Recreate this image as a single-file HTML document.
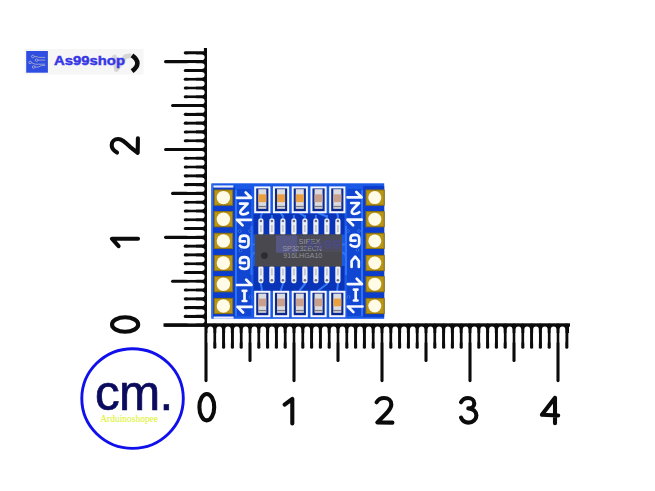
<!DOCTYPE html><html><head><meta charset="utf-8"><style>html,body{margin:0;padding:0;background:#fff;width:655px;height:491px;overflow:hidden}svg{display:block}text{font-family:"Liberation Sans",sans-serif}</style></head><body>
<svg width="655" height="491" viewBox="0 0 655 491">
<rect x="0" y="0" width="655" height="491" fill="#fff"/>
<rect x="24.5" y="49" width="119" height="25.5" fill="#f6f6f6"/>
<rect x="26.2" y="51" width="21.7" height="21.7" fill="#2f4de0"/>
<g stroke="#b4b4cc" stroke-width="0.8" fill="none"><circle cx="32.8" cy="56.5" r="1.3"/><path d="M34.1 56.6h3l1.5 0.8h6.6"/><circle cx="36.5" cy="60.1" r="1.3"/><path d="M37.8 60.1h7.4"/><circle cx="30.1" cy="62.4" r="1.3"/><path d="M31.4 62.6l3.7 1.6h10.1"/><circle cx="33.7" cy="67" r="1.3"/><path d="M35 67h3.5l2.8-1.4h3.9"/></g>
<path d="M114.5 57 L116.5 69.5 L125.5 56.5 L129.5 55.8" stroke="#d6d6d6" stroke-width="4.8" fill="none" stroke-linejoin="round" stroke-linecap="round"/>
<text x="54" y="65.3" font-size="13.6" font-weight="bold" fill="#3636e6" stroke="#3636e6" stroke-width="0.45" textLength="71" lengthAdjust="spacingAndGlyphs">As99shop</text>
<path d="M132 55.4 C135.6 58 137.4 60.8 137.4 63.2 C137.4 65.6 135.6 68.6 132 71.2" stroke="#0c0c0c" stroke-width="4.6" fill="none" stroke-linecap="butt"/>
<g fill="#0b0b0b">
<rect x="203.9" y="48" width="3.1" height="278.7"/>
<rect x="163.5" y="323.3" width="406.5" height="3.4"/>
<rect x="196" y="53" width="9" height="272"/>
<rect x="206" y="324" width="363" height="9"/>
</g>
<g stroke="#0b0b0b" stroke-linecap="round" stroke-width="3.1">
<line x1="165.6" y1="325.20" x2="205" y2="325.20"/>
<line x1="185.3" y1="316.41" x2="205" y2="316.41"/>
<line x1="185.3" y1="307.63" x2="205" y2="307.63"/>
<line x1="185.3" y1="298.84" x2="205" y2="298.84"/>
<line x1="185.3" y1="290.06" x2="205" y2="290.06"/>
<line x1="172.6" y1="281.27" x2="205" y2="281.27"/>
<line x1="185.3" y1="272.49" x2="205" y2="272.49"/>
<line x1="185.3" y1="263.70" x2="205" y2="263.70"/>
<line x1="185.3" y1="254.92" x2="205" y2="254.92"/>
<line x1="185.3" y1="246.13" x2="205" y2="246.13"/>
<line x1="165.6" y1="237.35" x2="205" y2="237.35"/>
<line x1="185.3" y1="228.56" x2="205" y2="228.56"/>
<line x1="185.3" y1="219.78" x2="205" y2="219.78"/>
<line x1="185.3" y1="211.00" x2="205" y2="211.00"/>
<line x1="185.3" y1="202.21" x2="205" y2="202.21"/>
<line x1="172.6" y1="193.42" x2="205" y2="193.42"/>
<line x1="185.3" y1="184.64" x2="205" y2="184.64"/>
<line x1="185.3" y1="175.85" x2="205" y2="175.85"/>
<line x1="185.3" y1="167.07" x2="205" y2="167.07"/>
<line x1="185.3" y1="158.28" x2="205" y2="158.28"/>
<line x1="165.6" y1="149.50" x2="205" y2="149.50"/>
<line x1="185.3" y1="140.71" x2="205" y2="140.71"/>
<line x1="185.3" y1="131.93" x2="205" y2="131.93"/>
<line x1="185.3" y1="123.14" x2="205" y2="123.14"/>
<line x1="185.3" y1="114.36" x2="205" y2="114.36"/>
<line x1="172.6" y1="105.57" x2="205" y2="105.57"/>
<line x1="185.3" y1="96.79" x2="205" y2="96.79"/>
<line x1="185.3" y1="88.00" x2="205" y2="88.00"/>
<line x1="185.3" y1="79.22" x2="205" y2="79.22"/>
<line x1="185.3" y1="70.43" x2="205" y2="70.43"/>
<line x1="165.6" y1="61.65" x2="205" y2="61.65"/>
<line x1="185.3" y1="52.87" x2="205" y2="52.87"/>
<line x1="206.00" y1="325" x2="206.00" y2="380.6"/>
<line x1="214.80" y1="325" x2="214.80" y2="347.2"/>
<line x1="223.60" y1="325" x2="223.60" y2="347.2"/>
<line x1="232.40" y1="325" x2="232.40" y2="347.2"/>
<line x1="241.20" y1="325" x2="241.20" y2="347.2"/>
<line x1="250.00" y1="325" x2="250.00" y2="360.4"/>
<line x1="258.80" y1="325" x2="258.80" y2="347.2"/>
<line x1="267.60" y1="325" x2="267.60" y2="347.2"/>
<line x1="276.40" y1="325" x2="276.40" y2="347.2"/>
<line x1="285.20" y1="325" x2="285.20" y2="347.2"/>
<line x1="294.00" y1="325" x2="294.00" y2="380.6"/>
<line x1="302.80" y1="325" x2="302.80" y2="347.2"/>
<line x1="311.60" y1="325" x2="311.60" y2="347.2"/>
<line x1="320.40" y1="325" x2="320.40" y2="347.2"/>
<line x1="329.20" y1="325" x2="329.20" y2="347.2"/>
<line x1="338.00" y1="325" x2="338.00" y2="360.4"/>
<line x1="346.80" y1="325" x2="346.80" y2="347.2"/>
<line x1="355.60" y1="325" x2="355.60" y2="347.2"/>
<line x1="364.40" y1="325" x2="364.40" y2="347.2"/>
<line x1="373.20" y1="325" x2="373.20" y2="347.2"/>
<line x1="382.00" y1="325" x2="382.00" y2="380.6"/>
<line x1="390.80" y1="325" x2="390.80" y2="347.2"/>
<line x1="399.60" y1="325" x2="399.60" y2="347.2"/>
<line x1="408.40" y1="325" x2="408.40" y2="347.2"/>
<line x1="417.20" y1="325" x2="417.20" y2="347.2"/>
<line x1="426.00" y1="325" x2="426.00" y2="360.4"/>
<line x1="434.80" y1="325" x2="434.80" y2="347.2"/>
<line x1="443.60" y1="325" x2="443.60" y2="347.2"/>
<line x1="452.40" y1="325" x2="452.40" y2="347.2"/>
<line x1="461.20" y1="325" x2="461.20" y2="347.2"/>
<line x1="470.00" y1="325" x2="470.00" y2="380.6"/>
<line x1="478.80" y1="325" x2="478.80" y2="347.2"/>
<line x1="487.60" y1="325" x2="487.60" y2="347.2"/>
<line x1="496.40" y1="325" x2="496.40" y2="347.2"/>
<line x1="505.20" y1="325" x2="505.20" y2="347.2"/>
<line x1="514.00" y1="325" x2="514.00" y2="360.4"/>
<line x1="522.80" y1="325" x2="522.80" y2="347.2"/>
<line x1="531.60" y1="325" x2="531.60" y2="347.2"/>
<line x1="540.40" y1="325" x2="540.40" y2="347.2"/>
<line x1="549.20" y1="325" x2="549.20" y2="347.2"/>
<line x1="558.00" y1="325" x2="558.00" y2="380.6"/>
<line x1="566.80" y1="325" x2="566.80" y2="347.2"/>
</g>
<g fill="#fff">
<rect x="186" y="317.96" width="18.6" height="5.34" rx="3" ry="3"/>
<rect x="186" y="309.18" width="18.6" height="5.68" rx="3" ry="3"/>
<rect x="186" y="300.39" width="18.6" height="5.69" rx="3" ry="3"/>
<rect x="186" y="291.61" width="18.6" height="5.68" rx="3" ry="3"/>
<rect x="186" y="282.82" width="18.6" height="5.69" rx="3" ry="3"/>
<rect x="186" y="274.04" width="18.6" height="5.68" rx="3" ry="3"/>
<rect x="186" y="265.25" width="18.6" height="5.69" rx="3" ry="3"/>
<rect x="186" y="256.47" width="18.6" height="5.69" rx="3" ry="3"/>
<rect x="186" y="247.69" width="18.6" height="5.68" rx="3" ry="3"/>
<rect x="186" y="238.90" width="18.6" height="5.68" rx="3" ry="3"/>
<rect x="186" y="230.12" width="18.6" height="5.68" rx="3" ry="3"/>
<rect x="186" y="221.33" width="18.6" height="5.69" rx="3" ry="3"/>
<rect x="186" y="212.55" width="18.6" height="5.68" rx="3" ry="3"/>
<rect x="186" y="203.76" width="18.6" height="5.69" rx="3" ry="3"/>
<rect x="186" y="194.97" width="18.6" height="5.68" rx="3" ry="3"/>
<rect x="186" y="186.19" width="18.6" height="5.68" rx="3" ry="3"/>
<rect x="186" y="177.41" width="18.6" height="5.68" rx="3" ry="3"/>
<rect x="186" y="168.62" width="18.6" height="5.68" rx="3" ry="3"/>
<rect x="186" y="159.84" width="18.6" height="5.68" rx="3" ry="3"/>
<rect x="186" y="151.05" width="18.6" height="5.68" rx="3" ry="3"/>
<rect x="186" y="142.26" width="18.6" height="5.69" rx="3" ry="3"/>
<rect x="186" y="133.48" width="18.6" height="5.68" rx="3" ry="3"/>
<rect x="186" y="124.69" width="18.6" height="5.68" rx="3" ry="3"/>
<rect x="186" y="115.91" width="18.6" height="5.69" rx="3" ry="3"/>
<rect x="186" y="107.12" width="18.6" height="5.69" rx="3" ry="3"/>
<rect x="186" y="98.34" width="18.6" height="5.69" rx="3" ry="3"/>
<rect x="186" y="89.55" width="18.6" height="5.69" rx="3" ry="3"/>
<rect x="186" y="80.77" width="18.6" height="5.69" rx="3" ry="3"/>
<rect x="186" y="71.98" width="18.6" height="5.69" rx="3" ry="3"/>
<rect x="186" y="63.20" width="18.6" height="5.69" rx="3" ry="3"/>
<rect x="186" y="54.42" width="18.6" height="5.68" rx="3" ry="3"/>
<rect x="207.55" y="326.5" width="5.70" height="18" rx="3" ry="3"/>
<rect x="216.35" y="326.5" width="5.70" height="18" rx="3" ry="3"/>
<rect x="225.15" y="326.5" width="5.70" height="18" rx="3" ry="3"/>
<rect x="233.95" y="326.5" width="5.70" height="18" rx="3" ry="3"/>
<rect x="242.75" y="326.5" width="5.70" height="18" rx="3" ry="3"/>
<rect x="251.55" y="326.5" width="5.70" height="18" rx="3" ry="3"/>
<rect x="260.35" y="326.5" width="5.70" height="18" rx="3" ry="3"/>
<rect x="269.15" y="326.5" width="5.70" height="18" rx="3" ry="3"/>
<rect x="277.95" y="326.5" width="5.70" height="18" rx="3" ry="3"/>
<rect x="286.75" y="326.5" width="5.70" height="18" rx="3" ry="3"/>
<rect x="295.55" y="326.5" width="5.70" height="18" rx="3" ry="3"/>
<rect x="304.35" y="326.5" width="5.70" height="18" rx="3" ry="3"/>
<rect x="313.15" y="326.5" width="5.70" height="18" rx="3" ry="3"/>
<rect x="321.95" y="326.5" width="5.70" height="18" rx="3" ry="3"/>
<rect x="330.75" y="326.5" width="5.70" height="18" rx="3" ry="3"/>
<rect x="339.55" y="326.5" width="5.70" height="18" rx="3" ry="3"/>
<rect x="348.35" y="326.5" width="5.70" height="18" rx="3" ry="3"/>
<rect x="357.15" y="326.5" width="5.70" height="18" rx="3" ry="3"/>
<rect x="365.95" y="326.5" width="5.70" height="18" rx="3" ry="3"/>
<rect x="374.75" y="326.5" width="5.70" height="18" rx="3" ry="3"/>
<rect x="383.55" y="326.5" width="5.70" height="18" rx="3" ry="3"/>
<rect x="392.35" y="326.5" width="5.70" height="18" rx="3" ry="3"/>
<rect x="401.15" y="326.5" width="5.70" height="18" rx="3" ry="3"/>
<rect x="409.95" y="326.5" width="5.70" height="18" rx="3" ry="3"/>
<rect x="418.75" y="326.5" width="5.70" height="18" rx="3" ry="3"/>
<rect x="427.55" y="326.5" width="5.70" height="18" rx="3" ry="3"/>
<rect x="436.35" y="326.5" width="5.70" height="18" rx="3" ry="3"/>
<rect x="445.15" y="326.5" width="5.70" height="18" rx="3" ry="3"/>
<rect x="453.95" y="326.5" width="5.70" height="18" rx="3" ry="3"/>
<rect x="462.75" y="326.5" width="5.70" height="18" rx="3" ry="3"/>
<rect x="471.55" y="326.5" width="5.70" height="18" rx="3" ry="3"/>
<rect x="480.35" y="326.5" width="5.70" height="18" rx="3" ry="3"/>
<rect x="489.15" y="326.5" width="5.70" height="18" rx="3" ry="3"/>
<rect x="497.95" y="326.5" width="5.70" height="18" rx="3" ry="3"/>
<rect x="506.75" y="326.5" width="5.70" height="18" rx="3" ry="3"/>
<rect x="515.55" y="326.5" width="5.70" height="18" rx="3" ry="3"/>
<rect x="524.35" y="326.5" width="5.70" height="18" rx="3" ry="3"/>
<rect x="533.15" y="326.5" width="5.70" height="18" rx="3" ry="3"/>
<rect x="541.95" y="326.5" width="5.70" height="18" rx="3" ry="3"/>
<rect x="550.75" y="326.5" width="5.70" height="18" rx="3" ry="3"/>
<rect x="559.55" y="326.5" width="5.70" height="18" rx="3" ry="3"/>
</g>
<g stroke="#0b0b0b" stroke-width="4.1" fill="none" stroke-linecap="round" stroke-linejoin="round">
<ellipse cx="206.8" cy="407.2" rx="7.4" ry="13.2"/>
<path d="M284.6 404.6 L292.3 399 V423.4"/>
<path d="M376.6 402.3 C378.3 399.5 380.8 398 384 398 C388.5 398 391.3 400.8 391.3 404.5 C391.3 409 386.5 413.5 377.3 422.4 L392.4 422.6"/>
<path d="M461 402.3 C462.5 399.6 465 398 468 398 C471.5 398 474.3 400.4 474.3 403.4 C474.3 406.4 471.8 408.4 468.3 408.4 C473 408.4 476.4 411.5 476.4 415.5 C476.4 419.5 472.8 422.6 468.5 422.6 C465 422.6 462.3 420.8 461 417.6"/>
<path d="M555 397.8 L541.9 414.8 L558.2 415.5 M555 397.8 V423.2"/>
<path d="M117 152.6 C113.6 150.5 111.7 148 111.7 145.2 C111.7 141.6 114.5 139 118.2 139 C121.6 139 124.5 141.6 130 146.8 L137.7 152.8 L137.9 138.3"/>
<path d="M118.6 246.2 L111.9 238.7 H138"/>
<ellipse cx="125.1" cy="324.5" rx="13.1" ry="7.2"/>
</g>
<ellipse cx="132.55" cy="398.55" rx="50.75" ry="49.85" fill="none" stroke="#1010ec" stroke-width="2.9"/>
<text x="95" y="409.7" font-size="49.4" fill="#0b0b5e" stroke="#0b0b5e" stroke-width="0.7" textLength="78.2" lengthAdjust="spacing">cm.</text>
<text x="100.3" y="422" font-size="11" fill="#dcf020" style="font-family:Liberation Serif,serif" textLength="57.7" lengthAdjust="spacingAndGlyphs">Arduinoshopee</text>
<rect x="211.4" y="183.3" width="172.79999999999998" height="135.5" fill="#1a58e6"/>
<rect x="211.2" y="184" width="1.6" height="134" fill="#3a78f2"/>
<rect x="213" y="186" width="21.8" height="131" fill="#0b3ccc"/>
<rect x="363.2" y="186" width="21" height="131" fill="#0b3ccc"/>
<rect x="253.5" y="213.5" width="91" height="21" fill="#0a34b8"/>
<rect x="253.5" y="266" width="91" height="24.8" fill="#0a34b8"/>
<rect x="237" y="189" width="14" height="127" fill="#1046d2"/>
<rect x="347" y="189" width="15" height="127" fill="#1046d2"/>
<g stroke="#2d72f5" stroke-width="2" fill="none">
<path d="M251.5 244.5 H256"/><path d="M251.5 258 C251.5 254 253 252.5 256 252.5"/>
<path d="M346 244.5 H341"/><path d="M346 258 C346 254 344 252.5 341 252.5"/>
<path d="M236 190 V316"/><path d="M362 190 V316"/>
<path d="M251.5 226 V275"/><path d="M346 226 V275"/>
<path d="M260.9 218 V215"/>
<path d="M271.9 218 V215"/>
<path d="M282.9 218 V215"/>
<path d="M293.9 218 V215"/>
<path d="M304.9 218 V215"/>
<path d="M315.9 218 V215"/>
<path d="M326.9 218 V215"/>
<path d="M337.9 218 V215"/>
</g>
<g fill="#0a2a9a" stroke="#3a7cf6" stroke-width="0.9">
<circle cx="239.7" cy="231.1" r="1.3"/>
<circle cx="250" cy="231.1" r="1.3"/>
<circle cx="250.5" cy="297" r="1.3"/>
<circle cx="240.5" cy="250.5" r="1.3"/>
<circle cx="348" cy="231" r="1.3"/>
<circle cx="359" cy="231" r="1.3"/>
<circle cx="348.5" cy="297" r="1.3"/>
<circle cx="357.5" cy="250" r="1.3"/>
</g>
<rect x="213.4" y="185.4" width="20" height="2.2" fill="#e6ecff"/>
<rect x="213.6" y="316.5" width="20" height="2.3" fill="#e6ecff"/>
<rect x="214.2" y="190.0" width="18.4" height="15.2" fill="#b99618" stroke="#8a700e" stroke-width="1"/>
<circle cx="223.4" cy="197.6" r="6.7" fill="#fffbe6"/>
<rect x="366" y="190.0" width="18.2" height="15.2" fill="#b99618" stroke="#8a700e" stroke-width="1"/>
<circle cx="374.8" cy="197.6" r="6.5" fill="#fffbe6"/>
<rect x="214.2" y="211.6" width="18.4" height="15.2" fill="#b99618" stroke="#8a700e" stroke-width="1"/>
<circle cx="223.4" cy="219.2" r="6.7" fill="#fffbe6"/>
<rect x="366" y="211.6" width="18.2" height="15.2" fill="#b99618" stroke="#8a700e" stroke-width="1"/>
<circle cx="374.8" cy="219.2" r="6.5" fill="#fffbe6"/>
<rect x="214.2" y="233.3" width="18.4" height="15.2" fill="#b99618" stroke="#8a700e" stroke-width="1"/>
<circle cx="223.4" cy="240.9" r="6.7" fill="#fffbe6"/>
<rect x="366" y="233.3" width="18.2" height="15.2" fill="#b99618" stroke="#8a700e" stroke-width="1"/>
<circle cx="374.8" cy="240.9" r="6.5" fill="#fffbe6"/>
<rect x="214.2" y="255.4" width="18.4" height="15.2" fill="#b99618" stroke="#8a700e" stroke-width="1"/>
<circle cx="223.4" cy="263.0" r="6.7" fill="#fffbe6"/>
<rect x="366" y="255.4" width="18.2" height="15.2" fill="#b99618" stroke="#8a700e" stroke-width="1"/>
<circle cx="374.8" cy="263.0" r="6.5" fill="#fffbe6"/>
<rect x="214.2" y="276.59999999999997" width="18.4" height="15.2" fill="#b99618" stroke="#8a700e" stroke-width="1"/>
<circle cx="223.4" cy="284.2" r="6.7" fill="#fffbe6"/>
<rect x="366" y="276.59999999999997" width="18.2" height="15.2" fill="#b99618" stroke="#8a700e" stroke-width="1"/>
<circle cx="374.8" cy="284.2" r="6.5" fill="#fffbe6"/>
<rect x="214.2" y="298.4" width="18.4" height="15.2" fill="#b99618" stroke="#8a700e" stroke-width="1"/>
<circle cx="223.4" cy="306.0" r="6.7" fill="#fffbe6"/>
<rect x="366" y="298.4" width="18.2" height="15.2" fill="#b99618" stroke="#8a700e" stroke-width="1"/>
<circle cx="374.8" cy="306.0" r="6.5" fill="#fffbe6"/>
<g stroke="#3478f6" stroke-width="2" fill="none" stroke-linecap="round">
<path d="M260.9 284 L262.0 290.5"/>
<path d="M260.9 216.5 L262.0 213"/>
<path d="M282.9 284 L280.8 290.5"/>
<path d="M282.9 216.5 L280.8 213"/>
<path d="M304.9 284 L299.6 290.5"/>
<path d="M304.9 216.5 L299.6 213"/>
<path d="M326.9 284 L318.4 290.5"/>
<path d="M326.9 216.5 L318.4 213"/>
<path d="M337.9 284 L337.2 290.5"/>
<path d="M337.9 216.5 L337.2 213"/>
</g>
<rect x="255.2" y="187.4" width="14.2" height="24.799999999999983" fill="#0a2890" stroke="#f4f7ff" stroke-width="2"/>
<rect x="258.3" y="189.20000000000002" width="8" height="19.599999999999966" fill="#dcdcde"/>
<rect x="258.3" y="194.29600000000002" width="8" height="7.8399999999999865" fill="#eaa040"/>
<rect x="258.3" y="205.85999999999999" width="8" height="1.3" fill="#7a7a84"/>
<rect x="273.95" y="187.4" width="14.2" height="24.799999999999983" fill="#0a2890" stroke="#f4f7ff" stroke-width="2"/>
<rect x="277.05" y="189.20000000000002" width="8" height="19.599999999999966" fill="#dcdcde"/>
<rect x="277.05" y="194.29600000000002" width="8" height="7.8399999999999865" fill="#eaa040"/>
<rect x="277.05" y="205.85999999999999" width="8" height="1.3" fill="#7a7a84"/>
<rect x="292.7" y="187.4" width="14.2" height="24.799999999999983" fill="#0a2890" stroke="#f4f7ff" stroke-width="2"/>
<rect x="295.8" y="189.20000000000002" width="8" height="19.599999999999966" fill="#dcdcde"/>
<rect x="295.8" y="194.29600000000002" width="8" height="7.8399999999999865" fill="#eaa040"/>
<rect x="295.8" y="205.85999999999999" width="8" height="1.3" fill="#7a7a84"/>
<rect x="311.45" y="187.4" width="14.2" height="24.799999999999983" fill="#0a2890" stroke="#f4f7ff" stroke-width="2"/>
<rect x="314.55" y="189.20000000000002" width="8" height="19.599999999999966" fill="#dcdcde"/>
<rect x="314.55" y="194.29600000000002" width="8" height="7.8399999999999865" fill="#c9a08c"/>
<rect x="314.55" y="205.85999999999999" width="8" height="1.3" fill="#7a7a84"/>
<rect x="330.2" y="187.4" width="14.2" height="24.799999999999983" fill="#0a2890" stroke="#f4f7ff" stroke-width="2"/>
<rect x="333.3" y="189.20000000000002" width="8" height="19.599999999999966" fill="#dcdcde"/>
<rect x="333.3" y="194.29600000000002" width="8" height="7.8399999999999865" fill="#c9a08c"/>
<rect x="333.3" y="205.85999999999999" width="8" height="1.3" fill="#7a7a84"/>
<rect x="255.2" y="291.8" width="14.2" height="24.399999999999977" fill="#0a2890" stroke="#f4f7ff" stroke-width="2"/>
<rect x="258.3" y="293.6" width="8" height="19.19999999999999" fill="#dcdcde"/>
<rect x="258.3" y="298.59200000000004" width="8" height="7.679999999999996" fill="#c9a08c"/>
<rect x="258.3" y="309.92" width="8" height="1.3" fill="#7a7a84"/>
<rect x="273.95" y="291.8" width="14.2" height="24.399999999999977" fill="#0a2890" stroke="#f4f7ff" stroke-width="2"/>
<rect x="277.05" y="293.6" width="8" height="19.19999999999999" fill="#dcdcde"/>
<rect x="277.05" y="298.59200000000004" width="8" height="7.679999999999996" fill="#c9a08c"/>
<rect x="277.05" y="309.92" width="8" height="1.3" fill="#7a7a84"/>
<rect x="292.7" y="291.8" width="14.2" height="24.399999999999977" fill="#0a2890" stroke="#f4f7ff" stroke-width="2"/>
<rect x="295.8" y="293.6" width="8" height="19.19999999999999" fill="#dcdcde"/>
<rect x="295.8" y="298.59200000000004" width="8" height="7.679999999999996" fill="#c9a08c"/>
<rect x="295.8" y="309.92" width="8" height="1.3" fill="#7a7a84"/>
<rect x="311.45" y="291.8" width="14.2" height="24.399999999999977" fill="#0a2890" stroke="#f4f7ff" stroke-width="2"/>
<rect x="314.55" y="293.6" width="8" height="19.19999999999999" fill="#dcdcde"/>
<rect x="314.55" y="298.59200000000004" width="8" height="7.679999999999996" fill="#c9a08c"/>
<rect x="314.55" y="309.92" width="8" height="1.3" fill="#7a7a84"/>
<rect x="330.2" y="291.8" width="14.2" height="24.399999999999977" fill="#0a2890" stroke="#f4f7ff" stroke-width="2"/>
<rect x="333.3" y="293.6" width="8" height="19.19999999999999" fill="#dcdcde"/>
<rect x="333.3" y="298.59200000000004" width="8" height="7.679999999999996" fill="#eaa040"/>
<rect x="333.3" y="309.92" width="8" height="1.3" fill="#7a7a84"/>
<rect x="258.29999999999995" y="218.3" width="5.2" height="17" rx="2.6" fill="#eef0f3"/>
<rect x="260.2" y="225" width="1.4" height="7" fill="#b8bcc6"/>
<circle cx="260.9" cy="221" r="1.3" fill="#6a7080"/>
<rect x="258.29999999999995" y="265.5" width="5.2" height="17.8" rx="2.6" fill="#eef0f3"/>
<rect x="260.2" y="268.5" width="1.4" height="7" fill="#b8bcc6"/>
<circle cx="260.9" cy="280.3" r="1.3" fill="#6a7080"/>
<rect x="269.29999999999995" y="218.3" width="5.2" height="17" rx="2.6" fill="#eef0f3"/>
<rect x="271.2" y="225" width="1.4" height="7" fill="#b8bcc6"/>
<circle cx="271.9" cy="221" r="1.3" fill="#6a7080"/>
<rect x="269.29999999999995" y="265.5" width="5.2" height="17.8" rx="2.6" fill="#eef0f3"/>
<rect x="271.2" y="268.5" width="1.4" height="7" fill="#b8bcc6"/>
<circle cx="271.9" cy="280.3" r="1.3" fill="#6a7080"/>
<rect x="280.29999999999995" y="218.3" width="5.2" height="17" rx="2.6" fill="#eef0f3"/>
<rect x="282.2" y="225" width="1.4" height="7" fill="#b8bcc6"/>
<circle cx="282.9" cy="221" r="1.3" fill="#6a7080"/>
<rect x="280.29999999999995" y="265.5" width="5.2" height="17.8" rx="2.6" fill="#eef0f3"/>
<rect x="282.2" y="268.5" width="1.4" height="7" fill="#b8bcc6"/>
<circle cx="282.9" cy="280.3" r="1.3" fill="#6a7080"/>
<rect x="291.29999999999995" y="218.3" width="5.2" height="17" rx="2.6" fill="#eef0f3"/>
<rect x="293.2" y="225" width="1.4" height="7" fill="#b8bcc6"/>
<circle cx="293.9" cy="221" r="1.3" fill="#6a7080"/>
<rect x="291.29999999999995" y="265.5" width="5.2" height="17.8" rx="2.6" fill="#eef0f3"/>
<rect x="293.2" y="268.5" width="1.4" height="7" fill="#b8bcc6"/>
<circle cx="293.9" cy="280.3" r="1.3" fill="#6a7080"/>
<rect x="302.29999999999995" y="218.3" width="5.2" height="17" rx="2.6" fill="#eef0f3"/>
<rect x="304.2" y="225" width="1.4" height="7" fill="#b8bcc6"/>
<circle cx="304.9" cy="221" r="1.3" fill="#6a7080"/>
<rect x="302.29999999999995" y="265.5" width="5.2" height="17.8" rx="2.6" fill="#eef0f3"/>
<rect x="304.2" y="268.5" width="1.4" height="7" fill="#b8bcc6"/>
<circle cx="304.9" cy="280.3" r="1.3" fill="#6a7080"/>
<rect x="313.29999999999995" y="218.3" width="5.2" height="17" rx="2.6" fill="#eef0f3"/>
<rect x="315.2" y="225" width="1.4" height="7" fill="#b8bcc6"/>
<circle cx="315.9" cy="221" r="1.3" fill="#6a7080"/>
<rect x="313.29999999999995" y="265.5" width="5.2" height="17.8" rx="2.6" fill="#eef0f3"/>
<rect x="315.2" y="268.5" width="1.4" height="7" fill="#b8bcc6"/>
<circle cx="315.9" cy="280.3" r="1.3" fill="#6a7080"/>
<rect x="324.29999999999995" y="218.3" width="5.2" height="17" rx="2.6" fill="#eef0f3"/>
<rect x="326.2" y="225" width="1.4" height="7" fill="#b8bcc6"/>
<circle cx="326.9" cy="221" r="1.3" fill="#6a7080"/>
<rect x="324.29999999999995" y="265.5" width="5.2" height="17.8" rx="2.6" fill="#eef0f3"/>
<rect x="326.2" y="268.5" width="1.4" height="7" fill="#b8bcc6"/>
<circle cx="326.9" cy="280.3" r="1.3" fill="#6a7080"/>
<rect x="335.29999999999995" y="218.3" width="5.2" height="17" rx="2.6" fill="#eef0f3"/>
<rect x="337.2" y="225" width="1.4" height="7" fill="#b8bcc6"/>
<circle cx="337.9" cy="221" r="1.3" fill="#6a7080"/>
<rect x="335.29999999999995" y="265.5" width="5.2" height="17.8" rx="2.6" fill="#eef0f3"/>
<rect x="337.2" y="268.5" width="1.4" height="7" fill="#b8bcc6"/>
<circle cx="337.9" cy="280.3" r="1.3" fill="#6a7080"/>
<rect x="254.9" y="234.3" width="87.1" height="32.3" fill="#48484e"/>
<rect x="276" y="235.5" width="21.4" height="17.2" fill="#5c5c96" opacity="0.75"/>
<rect x="297.4" y="236" width="44.6" height="16" fill="#585880" opacity="0.25"/>
<circle cx="264.4" cy="255.6" r="3.4" fill="#2c2c32"/>
<g font-size="7.6" fill="#a9abb6" opacity="0.75"><text x="298.5" y="243.5" textLength="22" lengthAdjust="spacingAndGlyphs">SIPEX</text><text x="282.4" y="250.8" textLength="39.5" lengthAdjust="spacingAndGlyphs">SP3232ECN</text><text x="283.3" y="258.3" textLength="39" lengthAdjust="spacingAndGlyphs">916LHGA10</text></g>
<text x="305" y="249.2" font-size="13.4" font-weight="bold" fill="#4a4a8c" opacity="0.85" textLength="35.7" lengthAdjust="spacingAndGlyphs">As99</text>
<g stroke="#f6f8ff" stroke-width="2.7" fill="none" stroke-linecap="round" stroke-linejoin="round">
<path d="M237 197.8 H251 L245.7 192.5"/>
<path d="M240 203.6 H247.6 L241 210.5 C239.5 212.5 240.5 214.4 243 214.4 C245 214.4 246.8 213.8 248 212.8"/>
<path d="M251 219.8 H237 L242.6 225.4"/>
<path d="M244.79999999999998 241.4 H239.89999999999998 V238.7 C239.89999999999998 236.7 241.89999999999998 235.7 244.2 235.7 C246.5 235.7 248.5 236.89999999999998 248.5 239.29999999999998 V244.1 C248.5 246.4 246.5 247.5 244.2 247.5 C241.89999999999998 247.5 240.49999999999997 246.7 239.89999999999998 245.7"/>
<path d="M244.9 262.90000000000003 H240.0 V260.20000000000005 C240.0 258.20000000000005 242.0 257.20000000000005 244.3 257.20000000000005 C246.60000000000002 257.20000000000005 248.60000000000002 258.40000000000003 248.60000000000002 260.80000000000007 V265.6 C248.60000000000002 267.9 246.60000000000002 269.0 244.3 269.0 C242.0 269.0 240.6 268.2 240.0 267.2"/>
<path d="M237 285 H251.5 L246.2 279.7"/>
<path d="M244.5 290.8 V301 M242.7 290.8 H246.3 M242.7 301 H246.3"/>
<path d="M251.5 306.9 H237.5 L243.1 312.5"/>
<path d="M347.5 197.3 H361.6 L356.3 192.0"/>
<path d="M351.2 203 H359 L352.6 209.8 C350.8 212 351.8 214 354.3 214 C356.3 214 358 213.3 359.3 212.3"/>
<path d="M361.6 219.7 H347.5 L353.1 225.29999999999998"/>
<path d="M355.5 240.60000000000002 H350.59999999999997 V237.9 C350.59999999999997 235.9 352.59999999999997 234.9 354.9 234.9 C357.2 234.9 359.2 236.1 359.2 238.5 V243.3 C359.2 245.60000000000002 357.2 246.70000000000002 354.9 246.70000000000002 C352.59999999999997 246.70000000000002 351.2 245.9 350.59999999999997 244.9"/>
<path d="M351.6 267 V261 L355.2 256.7 L358.8 261 V267"/>
<path d="M347.8 284.1 H362 L356.7 278.8"/>
<path d="M355.7 289.6 V300.5 M353.9 289.6 H357.5 M353.9 300.5 H357.5"/>
<path d="M362.5 306.5 H347.8 L353.40000000000003 312.1"/>
</g>
</svg></body></html>
